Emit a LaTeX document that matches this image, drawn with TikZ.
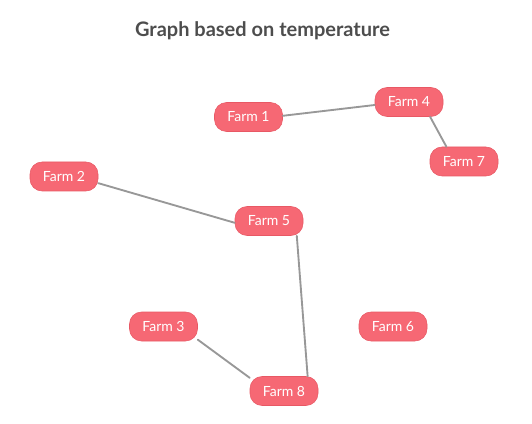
\documentclass[tikz,border=0pt]{standalone}
\usepackage{fontspec}
\setmainfont{Lato}
\definecolor{farmfill}{RGB}{246,104,116}
\definecolor{farmline}{RGB}{232,88,100}
\definecolor{linkgray}{RGB}{152,152,152}
\definecolor{titlegray}{RGB}{77,77,77}
\begin{document}
\begin{tikzpicture}[x=0.75pt, y=-0.75pt, line cap=round,
  farm/.style={draw=farmline, fill=farmfill, text=white, rounded corners=9pt,
    minimum width=51pt, minimum height=21.75pt, inner xsep=6pt, inner ysep=1pt,
    font=\fontsize{10.5}{12}\selectfont},
  link/.style={draw=linkgray, line width=1.4pt}]
\useasboundingbox (0,0) rectangle (532,424);

% ---------- title ----------
\node[text=titlegray, font=\fontsize{15}{17}\selectfont\bfseries] (title) at (262.5,31) {Graph based on temperature};

% ---------- farms ----------
\node[farm] (f1) at (248.5,117) {Farm 1};
\node[farm] (f4) at (409,102) {Farm 4};
\node[farm] (f7) at (464,161.5) {Farm 7};
\node[farm] (f2) at (64,176.5) {Farm 2};
\node[farm] (f5) at (269,221) {Farm 5};
\node[farm] (f3) at (163.5,326.5) {Farm 3};
\node[farm] (f6) at (393,326.5) {Farm 6};
\node[farm] (f8) at (284,391) {Farm 8};

% ---------- links ----------
\draw[link] (f1.2) -- (f4.185);
\draw[link] (f4.-35) -- (f7.140);
\draw[link] (f2.-11) -- (f5.183);
\draw[link] (f5.-28) -- (f8.32);
\draw[link] (f3.-21) -- (f8.159);

\end{tikzpicture}
\end{document}
